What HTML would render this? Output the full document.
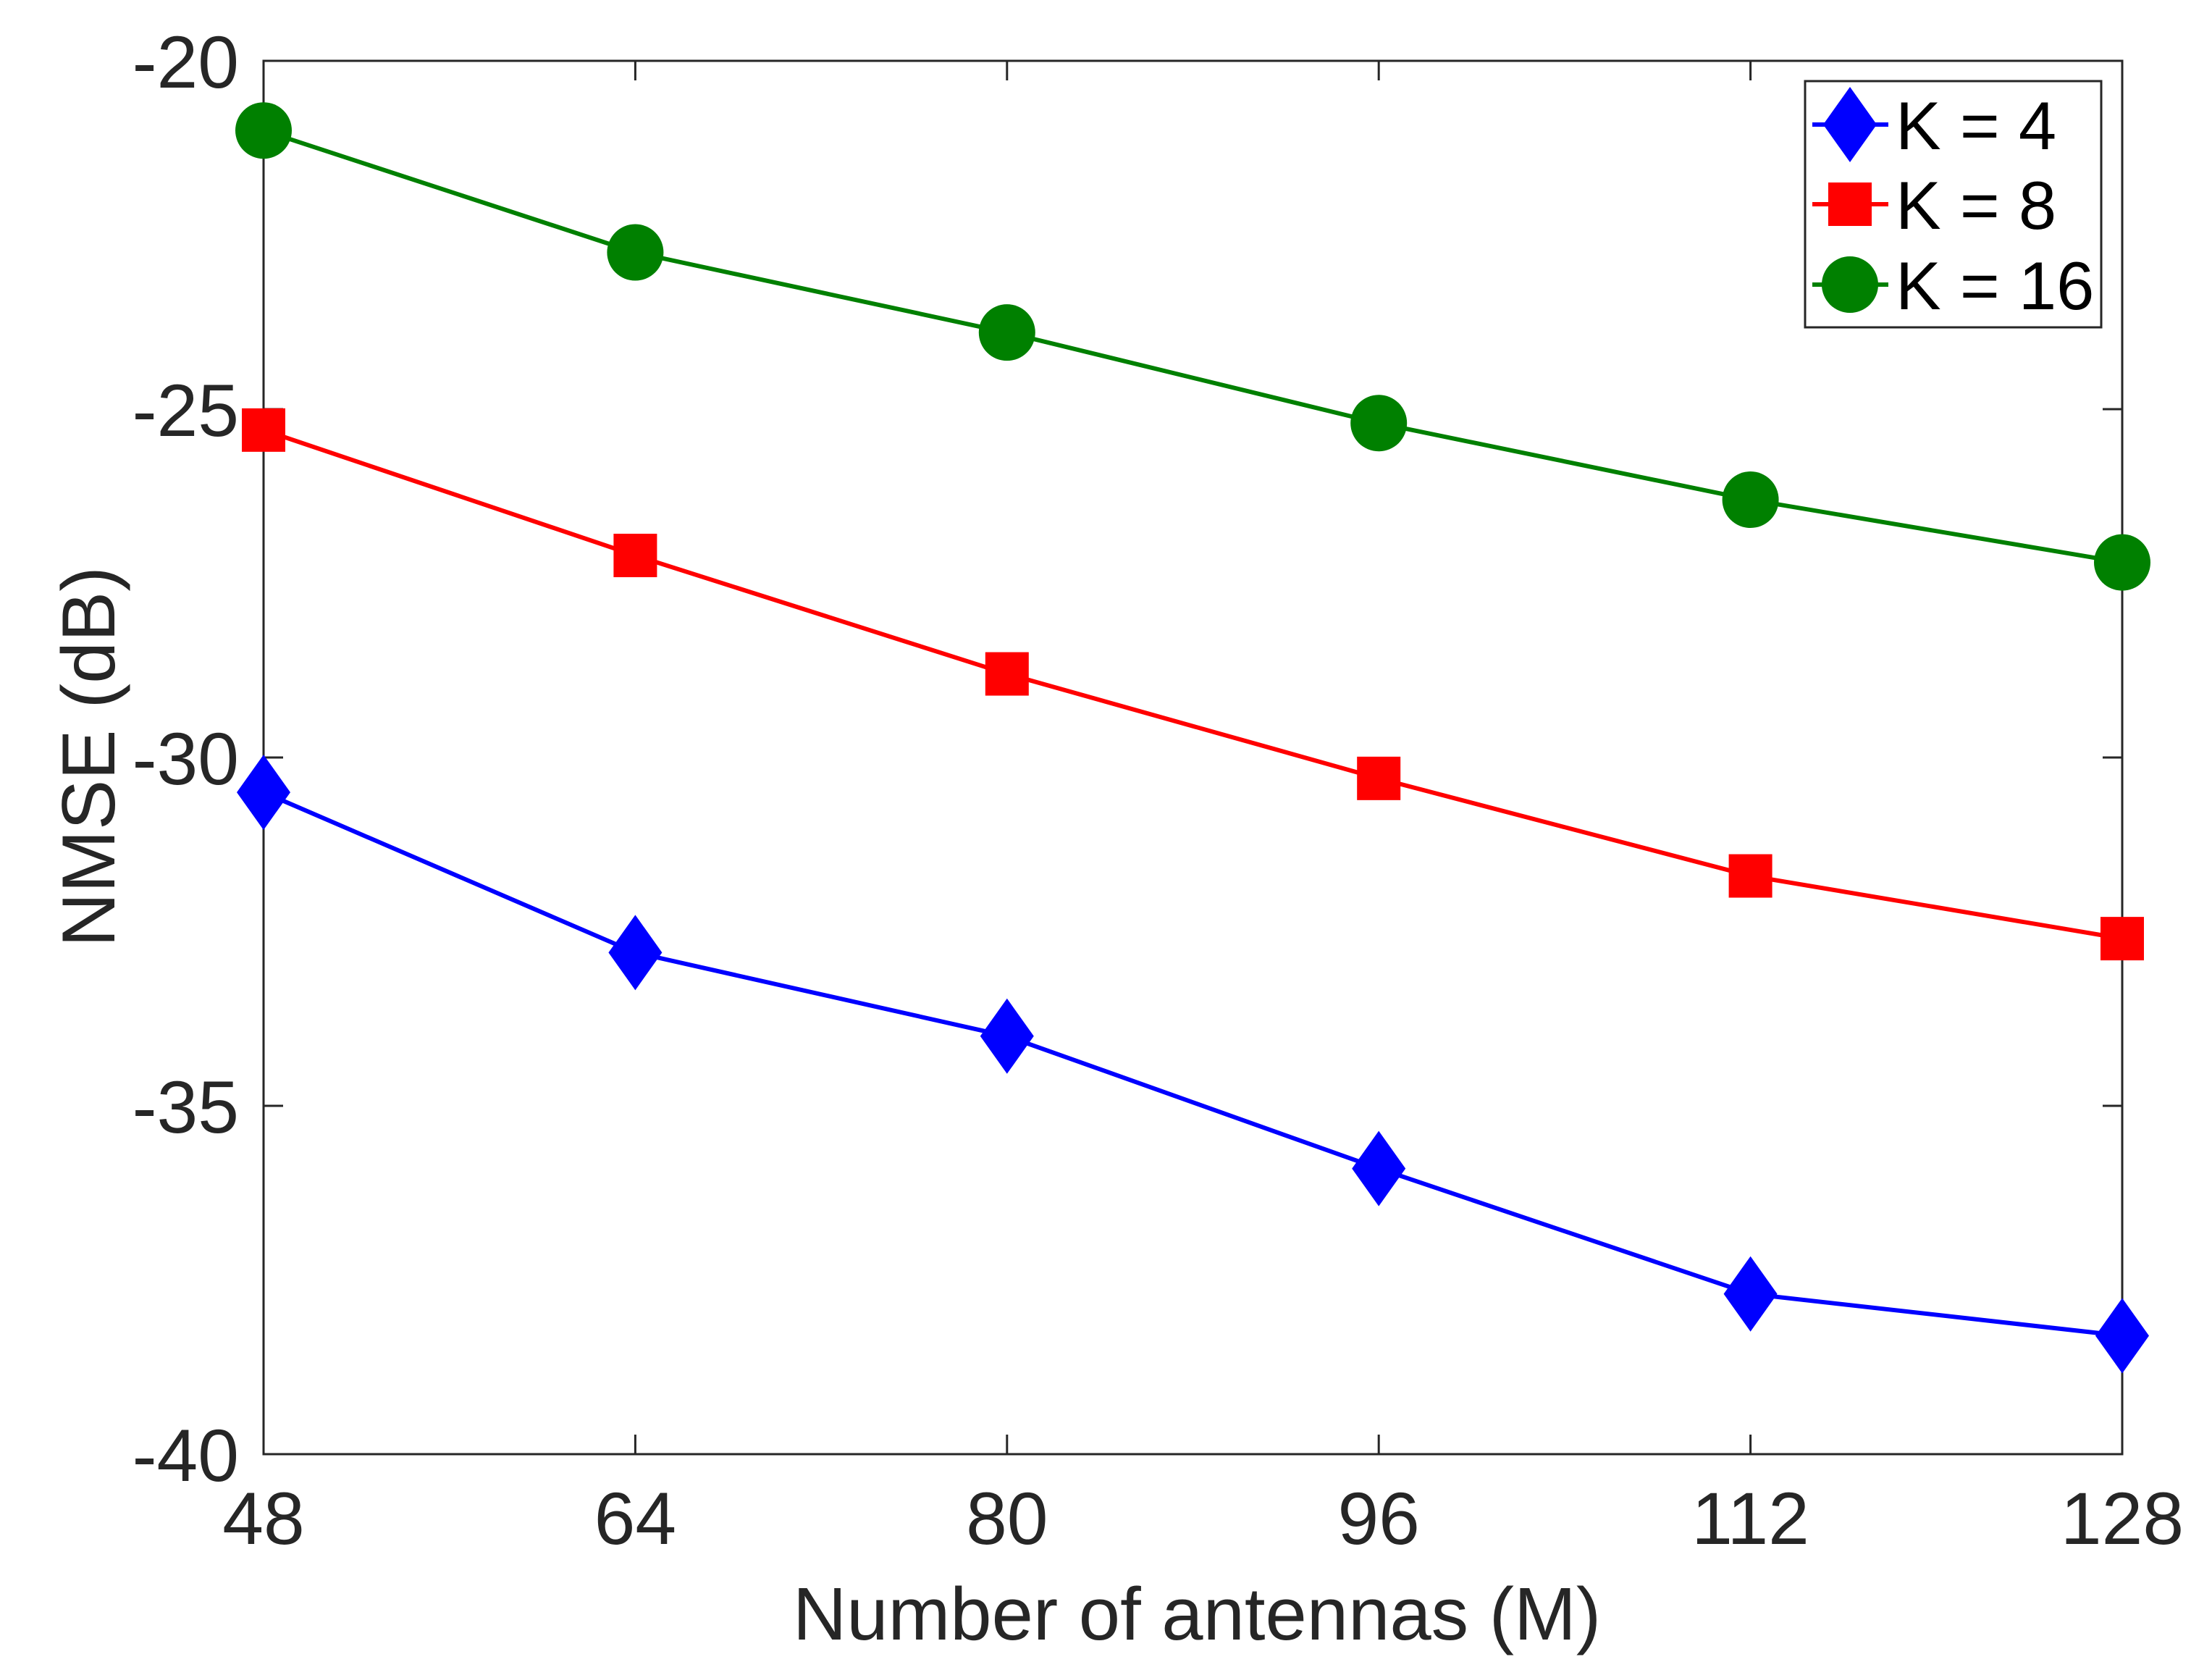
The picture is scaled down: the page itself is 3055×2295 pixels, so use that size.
<!DOCTYPE html>
<html><head><meta charset="utf-8"><style>
html,body{margin:0;padding:0;background:#fff;}
svg{display:block;font-family:"Liberation Sans",Arial,sans-serif;}
</style></head><body>
<svg id="chart" width="3055" height="2295" viewBox="0 0 3055 2295" xmlns="http://www.w3.org/2000/svg">
<rect width="3055" height="2295" fill="#fff"/>
<g id="grid"></g>
<g id="series"></g>
<g id="legend"></g>
</svg>
<script>
const categories = [48, 64, 80, 96, 112, 128];
const k4 = [-30.5, -32.8, -34.0, -35.9, -37.7, -38.3];
const k8 = [-25.3, -27.1, -28.8, -30.3, -31.7, -32.6];
const k16 = [-21.0, -22.75, -23.9, -25.2, -26.3, -27.2];
const yTicks = [-20, -25, -30, -35, -40];
const seriesLabels = ["K = 4", "K = 8", "K = 16"];

const NS = "http://www.w3.org/2000/svg";
const L = 364, R = 2931, T = 84, B = 2008;
const xMin = 48, xMax = 128, yMin = -40, yMax = -20;
const xs = v => L + (v - xMin) / (xMax - xMin) * (R - L);
const ys = v => B - (v - yMin) / (yMax - yMin) * (B - T);
function mk(tag, attrs, parent) {
  const e = document.createElementNS(NS, tag);
  for (const k in attrs) e.setAttribute(k, attrs[k]);
  parent.appendChild(e);
  return e;
}
const grid = document.getElementById('grid');
const ser = document.getElementById('series');
const leg = document.getElementById('legend');
const ax = '#262626';

let box = mk('rect', {x: L, y: T, width: R - L, height: B - T, fill: 'none', stroke: ax, 'stroke-width': 3}, grid);



categories.forEach(c => {
  const x = xs(c);
  let t1 = mk('line', {x1: x, y1: B, x2: x, y2: B - 27, stroke: ax, 'stroke-width': 3}, grid);
  
  
  let t2 = mk('line', {x1: x, y1: T, x2: x, y2: T + 27, stroke: ax, 'stroke-width': 3}, grid);
  
  
  let tx = mk('text', {x: x, y: 2132, 'text-anchor': 'middle', 'font-size': 102, fill: ax}, grid);
  tx.textContent = c;
  
  
});
yTicks.forEach(v => {
  const y = ys(v);
  let t1 = mk('line', {x1: L, y1: y, x2: L + 27, y2: y, stroke: ax, 'stroke-width': 3}, grid);
  
  
  let t2 = mk('line', {x1: R, y1: y, x2: R - 27, y2: y, stroke: ax, 'stroke-width': 3}, grid);
  
  
  let tx = mk('text', {x: 330, y: y + 37, 'text-anchor': 'end', 'font-size': 102, fill: ax}, grid);
  tx.textContent = v;
  
  
});
let xt = mk('text', {x: 1653, y: 2264, 'text-anchor': 'middle', 'font-size': 103, fill: ax}, grid);
xt.textContent = 'Number of antennas (M)';


let yt = mk('text', {x: 0, y: 0, 'text-anchor': 'middle', 'font-size': 104, fill: ax, transform: 'translate(158,1045) rotate(-90)'}, grid);
yt.textContent = 'NMSE (dB)';



function marker(type, cx, cy, color, parent) {
  let m;
  if (type === 'diamond') m = mk('polygon', {points: `${cx},${cy-52} ${cx+37},${cy} ${cx},${cy+52} ${cx-37},${cy}`, fill: color}, parent);
  else if (type === 'square') m = mk('rect', {x: cx - 30, y: cy - 30, width: 60, height: 60, fill: color}, parent);
  else m = mk('circle', {cx: cx, cy: cy, r: 39, fill: color}, parent);
  return m;
}
const series = [
  {vals: k4, color: '#0000ff', type: 'diamond', name: 'k4'},
  {vals: k8, color: '#ff0000', type: 'square', name: 'k8'},
  {vals: k16, color: '#008000', type: 'circle', name: 'k16'}
];
series.forEach((s, si) => {
  const pts = s.vals.map((v, i) => xs(categories[i]) + ',' + ys(v)).join(' ');
  let pl = mk('polyline', {points: pts, fill: 'none', stroke: s.color, 'stroke-width': 6}, ser);
  
  
  s.vals.forEach((v, i) => {
    let m = marker(s.type, xs(categories[i]), ys(v), s.color, ser);
    
    
  });
  const ly = [172, 282, 393][si];
  let ll = mk('line', {x1: 2503, y1: ly, x2: 2608, y2: ly, stroke: s.color, 'stroke-width': 6}, leg);
  
  
  let lm = marker(s.type, 2555, ly, s.color, leg);
  
  
  let lt = mk('text', {x: 2618, y: ly + 34, 'font-size': 94, fill: '#000'}, leg);
  lt.textContent = seriesLabels[si];
  
  
});
let lb = mk('rect', {x: 2493, y: 112, width: 409, height: 340, fill: 'none', stroke: ax, 'stroke-width': 3}, leg);


</script>
</body></html>
